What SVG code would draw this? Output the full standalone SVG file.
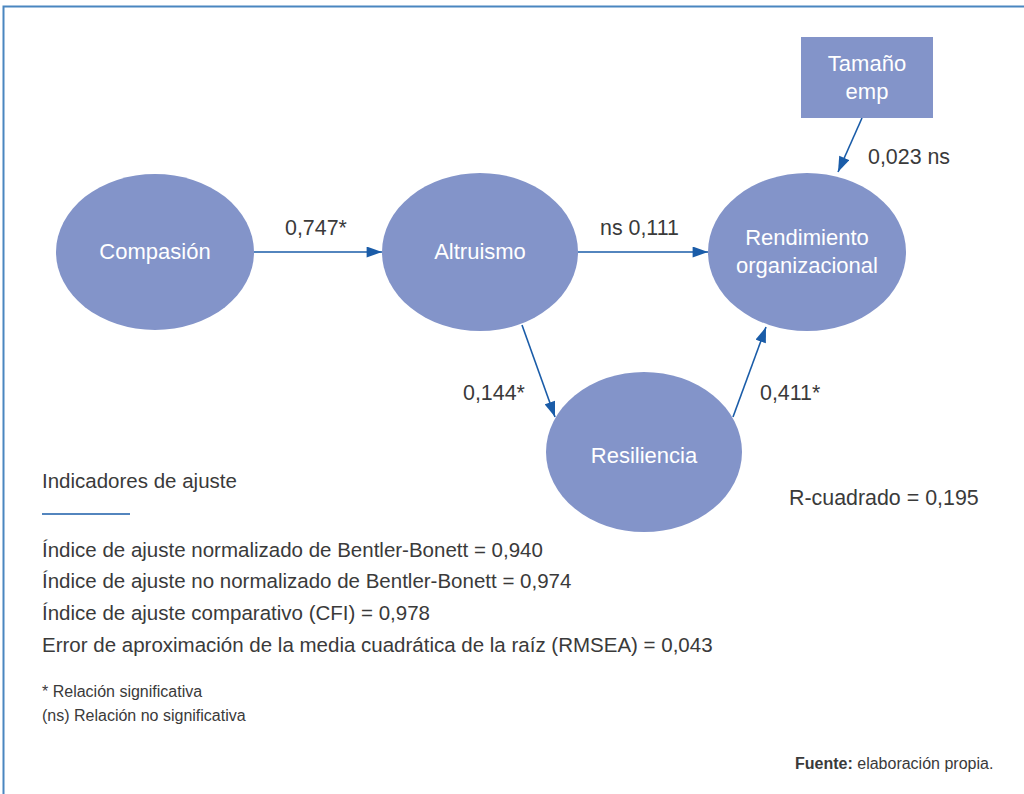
<svg xmlns="http://www.w3.org/2000/svg" width="1024" height="794" viewBox="0 0 1024 794">
<style>
.node{fill:#8394c9}
.nt{font-family:"Liberation Sans",Arial,sans-serif;font-size:22px;fill:#ffffff;text-anchor:middle}
.lbl{font-family:"Liberation Sans",Arial,sans-serif;font-size:21.4px;fill:#3a3a3a}
.leg{font-family:"Liberation Sans",Arial,sans-serif;font-size:20.5px;fill:#3a3a3a}
.sm{font-family:"Liberation Sans",Arial,sans-serif;font-size:16px;fill:#3a3a3a}
.edge{stroke:#1a5ca8;stroke-width:1.6;fill:none;marker-end:url(#ah)}
</style>
<defs>
<marker id="ah" viewBox="0 0 14 10" refX="14" refY="5" markerWidth="16" markerHeight="11" markerUnits="userSpaceOnUse" orient="auto">
<path d="M0,0 L14,5 L0,10 z" fill="#1a5ca8"/>
</marker>
</defs>
<rect width="1024" height="794" fill="#ffffff"/>
<path d="M3.5,794 L3.5,6.5 L1024,6.5" fill="none" stroke="#4a86c0" stroke-width="2"/>

<g id="connectors">
<line x1="254" y1="252" x2="382" y2="252" class="edge"/>
<line x1="578" y1="252" x2="708" y2="252" class="edge"/>
<line x1="862" y1="118" x2="838" y2="172" class="edge"/>
<line x1="522" y1="325" x2="555" y2="417" class="edge"/>
<line x1="733" y1="417" x2="766" y2="327" class="edge"/>
</g>

<g id="compasion">
<ellipse cx="155" cy="252" rx="99" ry="78" class="node"/>
<text x="155" y="259" class="nt">Compasión</text>
</g>
<g id="altruismo">
<ellipse cx="480" cy="252" rx="98" ry="79" class="node"/>
<text x="480" y="259" class="nt">Altruismo</text>
</g>
<g id="rendimiento">
<ellipse cx="807" cy="252" rx="99" ry="79" class="node"/>
<text x="807" y="245" class="nt">Rendimiento</text>
<text x="807" y="273" class="nt">organizacional</text>
</g>
<g id="resiliencia">
<ellipse cx="644" cy="452" rx="98" ry="80" class="node"/>
<text x="644" y="463" class="nt">Resiliencia</text>
</g>
<g id="tamano">
<rect x="801" y="37" width="132" height="81" class="node"/>
<text x="867" y="71" class="nt">Tamaño</text>
<text x="867" y="99" class="nt">emp</text>
</g>

<g id="labels">
<text x="285" y="235" class="lbl">0,747*</text>
<text x="600" y="235" class="lbl">ns 0,111</text>
<text x="868" y="164" class="lbl">0,023 ns</text>
<text x="463" y="400" class="lbl">0,144*</text>
<text x="760" y="400" class="lbl">0,411*</text>
<text x="789" y="505" class="lbl">R-cuadrado = 0,195</text>
</g>

<g id="legend">
<text x="42" y="488" class="leg">Indicadores de ajuste</text>
<line x1="42" y1="514" x2="130" y2="514" stroke="#1a5ca8" stroke-width="1.5"/>
<text x="42" y="557" class="leg">Índice de ajuste normalizado de Bentler-Bonett = 0,940</text>
<text x="42" y="588" class="leg">Índice de ajuste no normalizado de Bentler-Bonett = 0,974</text>
<text x="42" y="620" class="leg">Índice de ajuste comparativo (CFI) = 0,978</text>
<text x="42" y="652" class="leg">Error de aproximación de la media cuadrática de la raíz (RMSEA) = 0,043</text>
<text x="42" y="697" class="sm">* Relación significativa</text>
<text x="42" y="721" class="sm">(ns) Relación no significativa</text>
<text x="795" y="769" class="sm"><tspan font-weight="bold">Fuente:</tspan> elaboración propia.</text>
</g>
</svg>
